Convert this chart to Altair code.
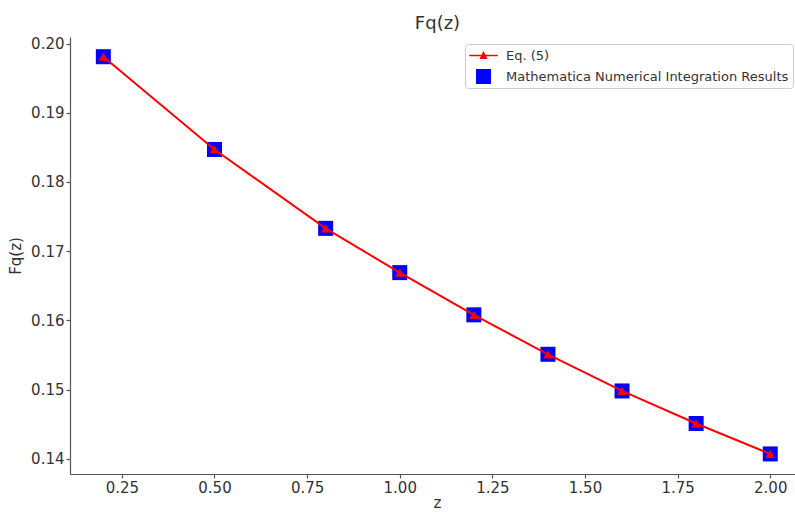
import altair as alt
import pandas as pd

z = [0.2, 0.5, 0.8, 1.0, 1.2, 1.4, 1.6, 1.8, 2.0]
eq5 = [0.1981, 0.1847, 0.1733, 0.1669, 0.1608, 0.1551, 0.1498, 0.1451, 0.1407]
mathematica = [0.1981, 0.1847, 0.1733, 0.1669, 0.1608, 0.1551, 0.1498, 0.1451, 0.1407]
series_names = ["Eq. (5)", "Mathematica Numerical Integration Results"]
x_ticks = [0.25, 0.5, 0.75, 1.0, 1.25, 1.5, 1.75, 2.0]
y_ticks = [0.14, 0.15, 0.16, 0.17, 0.18, 0.19, 0.20]

df_eq = pd.DataFrame({"z": z, "Fq": eq5, "series": series_names[0]})
df_m = pd.DataFrame({"z": z, "Fq": mathematica, "series": series_names[1]})

TXT = "#333333"
AX = "#555555"

xs = alt.X(
    "z:Q",
    scale=alt.Scale(domain=[0.11, 2.0668], nice=False, zero=False),
    axis=alt.Axis(values=x_ticks, format=".2f", title="z", labelPadding=2,
                  titlePadding=0, titleX=367),
)
ys = alt.Y(
    "Fq:Q",
    scale=alt.Scale(domain=[0.1378, 0.20095], nice=False, zero=False),
    axis=alt.Axis(values=y_ticks, format=".2f", title="Fq(z)", labelPadding=2,
                  titlePadding=7),
)

legend_path = "M-1.9,-0.09H1.9V0.09H-1.9Z M-0.55,0.45L0,-0.6L0.55,0.45Z"

leg = alt.Legend(
    orient="none", legendX=395, legendY=7, title=None,
    labelFontSize=13, labelColor=TXT, labelFont="DejaVu Sans", labelLimit=0,
    symbolSize=225, padding=4, rowPadding=6, strokeColor="#cccccc",
    fillColor="white", cornerRadius=3, labelOffset=15, symbolOffset=7,
    symbolStrokeWidth=0, symbolOpacity=1,
)

squares = alt.Chart(df_m).mark_point(filled=True, size=225, opacity=1).encode(
    x=xs, y=ys,
    color=alt.Color("series:N", scale=alt.Scale(domain=series_names, range=["red", "blue"]), legend=leg),
    shape=alt.Shape("series:N", scale=alt.Scale(domain=series_names, range=[legend_path, "square"]), legend=leg),
)

line = alt.Chart(df_eq).mark_line(color="red", strokeWidth=2).encode(x=xs, y=ys)
tris = alt.Chart(df_eq).mark_point(shape="triangle-up", filled=True, color="red", size=90, opacity=1).encode(x=xs, y=ys)

chart = alt.layer(squares, line, tris).properties(
    width=725, height=437,
    autosize=alt.AutoSizeParams(type="none"),
    padding={"left": 70, "top": 37, "right": 0, "bottom": 38},
    background="white",
    title=alt.TitleParams("Fq(z)", fontSize=18, color=TXT, font="DejaVu Sans", fontWeight="normal", offset=4, dx=5),
).configure_view(stroke=None).configure_axis(
    domainColor=AX, tickColor=AX, labelColor=TXT, titleColor=TXT,
    labelFont="DejaVu Sans", titleFont="DejaVu Sans", labelFontSize=15, titleFontSize=15,
    titleFontWeight="normal", grid=False, tickSize=4, domainWidth=1.2, tickWidth=1.2,
)

chart.save("out.html", embed_options={"renderer": "svg", "actions": False})
